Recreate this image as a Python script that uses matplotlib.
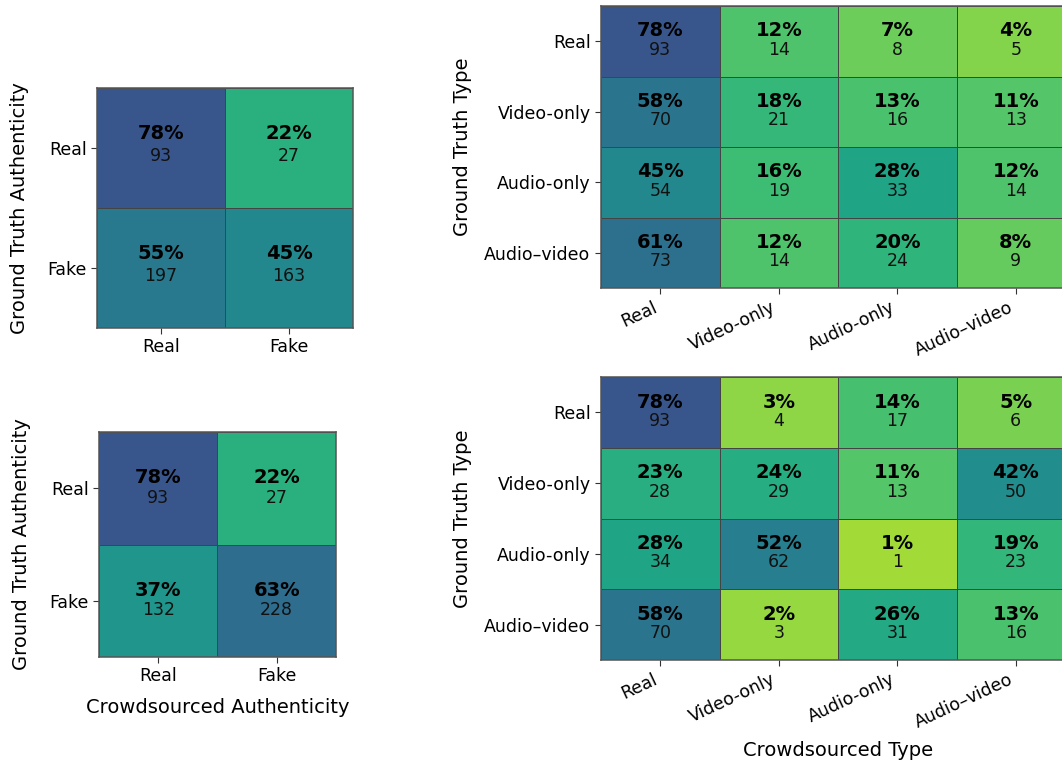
import numpy as np
import matplotlib
matplotlib.use('Agg')
import matplotlib.pyplot as plt
from matplotlib.colors import ListedColormap, PowerNorm

# data
auth_labels = ['Real', 'Fake']
type_labels = ['Real', 'Video-only', 'Audio-only', 'Audio\u2013video']

auth_top_pct = [[78, 22], [55, 45]]
auth_top_cnt = [[93, 27], [197, 163]]

auth_bot_pct = [[78, 22], [37, 63]]
auth_bot_cnt = [[93, 27], [132, 228]]

type_top_pct = [[78, 12, 7, 4],
                [58, 18, 13, 11],
                [45, 16, 28, 12],
                [61, 12, 20, 8]]
type_top_cnt = [[93, 14, 8, 5],
                [70, 21, 16, 13],
                [54, 19, 33, 14],
                [73, 14, 24, 9]]

type_bot_pct = [[78, 3, 14, 5],
                [23, 24, 11, 42],
                [28, 52, 1, 19],
                [58, 2, 26, 13]]
type_bot_cnt = [[93, 4, 17, 6],
                [28, 29, 13, 50],
                [34, 62, 1, 23],
                [70, 3, 31, 16]]

# colour map: part of viridis, reversed
cmap = ListedColormap(plt.cm.viridis(np.linspace(0.889, 0.152, 256)))
norm = PowerNorm(gamma=0.7, vmin=0, vmax=100)
edge = '#444444'


def draw(ax, pct, cnt, labels, ylabel, xlabel=None, rot=0,
         off=(3.5, -9.8), ypad=4, xpad=4):
    pct = np.array(pct)
    n = len(labels)
    ax.pcolormesh(pct, cmap=cmap, norm=norm, edgecolors=edge, linewidth=0.6)
    ax.set_xlim(0, n)
    ax.set_ylim(n, 0)
    for i in range(n):
        for j in range(n):
            ax.annotate('%d%%' % pct[i][j], (j + 0.5, i + 0.5), xytext=(0, off[0]),
                        textcoords='offset points', ha='center', va='baseline',
                        fontsize=14, fontweight='bold', color='black')
            ax.annotate('%d' % cnt[i][j], (j + 0.5, i + 0.5), xytext=(0, off[1]),
                        textcoords='offset points', ha='center', va='baseline',
                        fontsize=12.5, color='#111111')
    ax.set_xticks(np.arange(n) + 0.5)
    ax.set_yticks(np.arange(n) + 0.5)
    if rot:
        ax.set_xticklabels(labels, rotation=rot, ha='right')
    else:
        ax.set_xticklabels(labels)
    ax.set_yticklabels(labels)
    ax.tick_params(labelsize=12.5, length=4, color='#333333')
    for s in ax.spines.values():
        s.set_color('#555555')
        s.set_linewidth(1.1)
    ax.set_ylabel(ylabel, fontsize=14, labelpad=ypad)
    if xlabel:
        ax.set_xlabel(xlabel, fontsize=14, labelpad=xpad)


fig = plt.figure(figsize=(10.62, 7.61), dpi=100)
W, H = 1062.0, 761.0

def add(l, t, r, b):
    return fig.add_axes([l / W, 1 - b / H, (r - l) / W, (b - t) / H])

ax1 = add(97, 88, 353, 328)
ax2 = add(99, 432, 336, 657)
ax3 = add(601, 6, 1075, 288)
ax4 = add(601, 377, 1075, 660)

draw(ax1, auth_top_pct, auth_top_cnt, auth_labels, 'Ground Truth Authenticity',
     off=(6.4, -9.4), ypad=13)
draw(ax2, auth_bot_pct, auth_bot_cnt, auth_labels, 'Ground Truth Authenticity',
     'Crowdsourced Authenticity', off=(3.7, -10.4), ypad=13, xpad=9)
draw(ax3, type_top_pct, type_top_cnt, type_labels, 'Ground Truth Type',
     rot=25, ypad=9)
draw(ax4, type_bot_pct, type_bot_cnt, type_labels, 'Ground Truth Type',
     'Crowdsourced Type', rot=25, ypad=9, xpad=7)

fig.savefig('out.png', dpi=100)
